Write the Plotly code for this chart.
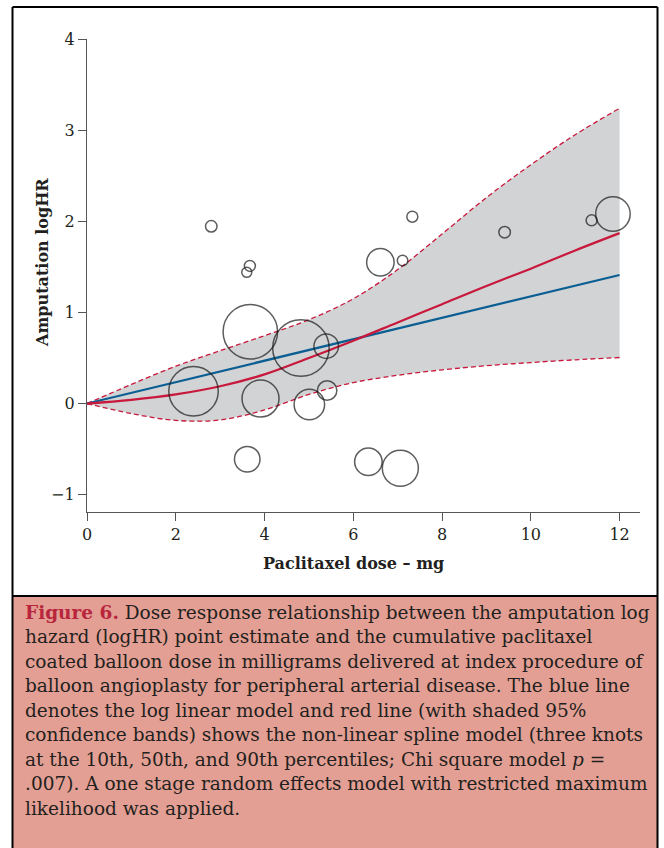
import plotly.graph_objects as go

# ---------------- data ----------------
study_dose = [2.80, 3.60, 3.67, 7.33, 6.61, 7.11, 9.41, 11.37, 11.85, 3.68, 4.82,
              5.39, 2.40, 3.91, 5.01, 5.41, 3.61, 6.34, 7.06]
study_loghr = [1.945, 1.44, 1.51, 2.05, 1.55, 1.57, 1.88, 2.01, 2.08, 0.787, 0.61,
               0.63, 0.135, 0.055, -0.011, 0.143, -0.61, -0.64, -0.71]
study_weight = [11.5, 10, 11, 11, 27.5, 10.5, 11.5, 11, 34.5, 54.5, 56.5,
                24.5, 49.5, 37, 30.5, 19.5, 25.5, 27.5, 36]

linear_dose = [0, 12]
linear_loghr = [0, 1.41]

spline_dose = [0, 1, 2, 3, 4, 5, 6, 7, 8, 9, 10, 11, 12]
spline_loghr = [0, 0.04, 0.10, 0.19, 0.32, 0.50, 0.69, 0.89, 1.09, 1.29, 1.48, 1.68, 1.87]
spline_upper = [0, 0.21, 0.41, 0.58, 0.745, 0.92, 1.15, 1.47, 1.86, 2.26, 2.62, 2.95, 3.24]
spline_lower = [0, -0.11, -0.185, -0.18, -0.07, 0.10, 0.23, 0.31, 0.37, 0.415, 0.45, 0.48, 0.505]

x_ticks = [0, 2, 4, 6, 8, 10, 12]
y_ticks = [-1, 0, 1, 2, 3, 4]

x_title = "Paclitaxel dose – mg"
y_title = "Amputation logHR"

caption_lines = [
    "<b><span style='color:#b8253d'>Figure 6.</span></b> Dose response relationship between the amputation log",
    "hazard (logHR) point estimate and the cumulative paclitaxel",
    "coated balloon dose in milligrams delivered at index procedure of",
    "balloon angioplasty for peripheral arterial disease. The blue line",
    "denotes the log linear model and red line (with shaded 95%",
    "confidence bands) shows the non-linear spline model (three knots",
    "at the 10th, 50th, and 90th percentiles; Chi square model <i>p</i> =",
    ".007). A one stage random effects model with restricted maximum",
    "likelihood was applied.",
]

# ---------------- styling ----------------
W, H = 664, 848
ML, MR, MT, MB = 87, 24, 39, 336
PW, PH = W - ML - MR, H - MT - MB
RED = "#c8183c"
BLUE = "#0b5e94"
TXT = "#231f20"
SERIF = "DejaVu Serif"


def px(xp):
    return (xp - ML) / PW


def py(yp):
    return (H - MB - yp) / PH


fig = go.Figure()

fig.add_trace(go.Scatter(x=spline_dose, y=spline_lower, mode="lines",
                         line=dict(color=RED, width=1.3, dash="5px,3px", shape="spline"),
                         hoverinfo="skip", showlegend=False))
fig.add_trace(go.Scatter(x=spline_dose, y=spline_upper, mode="lines", fill="tonexty",
                         fillcolor="#d1d3d4",
                         line=dict(color=RED, width=1.3, dash="5px,3px", shape="spline"),
                         hoverinfo="skip", showlegend=False))
fig.add_trace(go.Scatter(x=linear_dose, y=linear_loghr, mode="lines",
                         line=dict(color=BLUE, width=2.2), showlegend=False))
fig.add_trace(go.Scatter(x=spline_dose, y=spline_loghr, mode="lines",
                         line=dict(color=RED, width=2.2, shape="spline"), showlegend=False))
fig.add_trace(go.Scatter(x=study_dose, y=study_loghr, mode="markers",
                         marker=dict(size=study_weight, sizemode="diameter",
                                     color="rgba(0,0,0,0)",
                                     line=dict(color="#1a1a1a", width=1.5)),
                         cliponaxis=False, showlegend=False))

axis_common = dict(showline=True, linecolor="#555", linewidth=1.3, ticks="outside",
                   ticklen=8, tickwidth=1.3, tickcolor="#555", showgrid=False,
                   zeroline=False, tickfont=dict(family=SERIF, size=16, color=TXT))

fig.update_xaxes(range=[0, 12.46], tickvals=x_ticks, **axis_common)
fig.update_yaxes(range=[-1.19, 4], tickvals=y_ticks,
                 ticktext=[("−1" if v == -1 else str(v)) for v in y_ticks], **axis_common)

shapes = [
    # caption background
    dict(type="rect", xref="paper", yref="paper", x0=px(13), x1=px(657.5), y0=py(848), y1=py(596),
         fillcolor="#e39f93", line=dict(width=0), layer="below"),
    # outer frame
    dict(type="line", xref="paper", yref="paper", x0=px(12.5), x1=px(657.5), y0=py(7), y1=py(7),
         line=dict(color="black", width=2)),
    dict(type="line", xref="paper", yref="paper", x0=px(12.5), x1=px(12.5), y0=py(7), y1=py(848),
         line=dict(color="black", width=2)),
    dict(type="line", xref="paper", yref="paper", x0=px(657.5), x1=px(657.5), y0=py(7), y1=py(848),
         line=dict(color="black", width=2)),
    dict(type="line", xref="paper", yref="paper", x0=px(12.5), x1=px(657.5), y0=py(596), y1=py(596),
         line=dict(color="black", width=2)),
]

annotations = [
    dict(text="<b>" + x_title + "</b>", xref="paper", yref="paper", x=px(353), y=py(563),
         xanchor="center", yanchor="middle", showarrow=False,
         font=dict(family=SERIF, size=16, color=TXT)),
    dict(text="<b>" + y_title + "</b>", xref="paper", yref="paper", x=px(42), y=py(263),
         xanchor="center", yanchor="middle", showarrow=False, textangle=-90,
         font=dict(family=SERIF, size=16, color=TXT)),
]
y0, dy = 612, 24.5
for i, line in enumerate(caption_lines):
    annotations.append(dict(text=line, xref="paper", yref="paper", x=px(23), y=py(y0 + i * dy),
                            xanchor="left", yanchor="middle", showarrow=False,
                            font=dict(family=SERIF, size=18.5, color=TXT)))

fig.update_layout(width=W, height=H, margin=dict(l=ML, r=MR, t=MT, b=MB),
                  paper_bgcolor="white", plot_bgcolor="white",
                  shapes=shapes, annotations=annotations, showlegend=False)

fig.write_html("out.html")
